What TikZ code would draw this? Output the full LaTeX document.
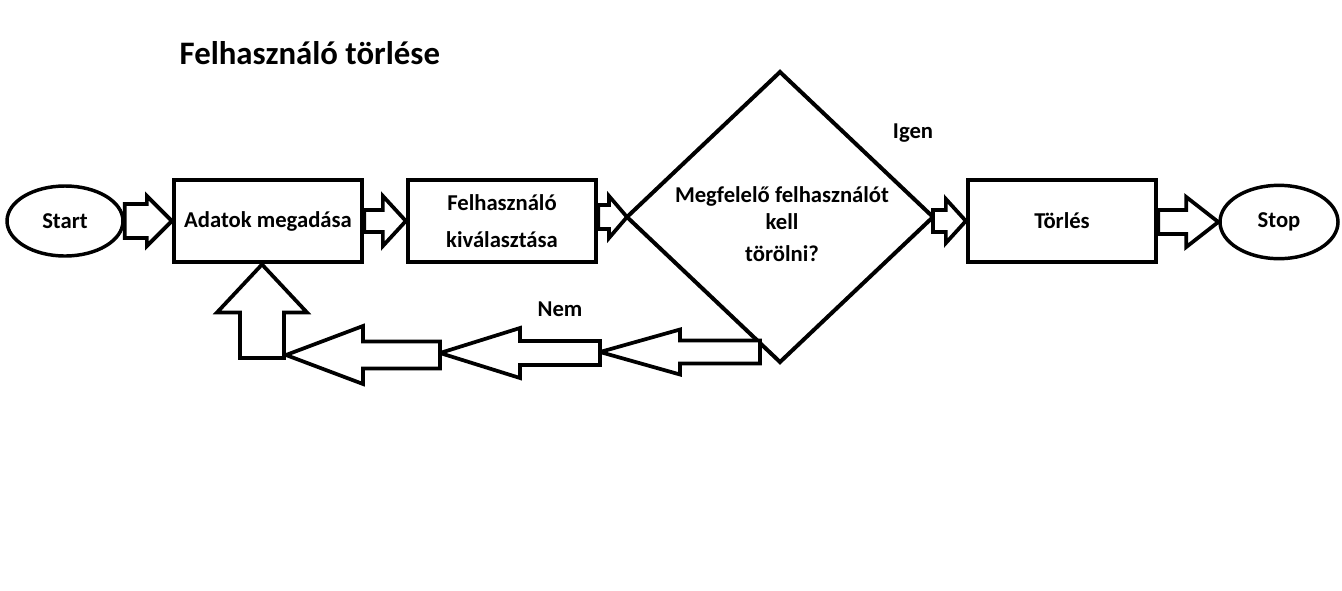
\documentclass[tikz,border=0pt]{standalone}
\usepackage{fontspec}
\setmainfont{Carlito}
\usetikzlibrary{calc,shapes.geometric}

% horizontal block arrow: tail, tip, body half, head half, head base offset from tip
\newcommand{\harrow}[5]{%
  \draw[blockarrow] ($(#1|-#2)+(0,-#3)$) -- ($(#2)+(#5,-#3)$) -- ($(#2)+(#5,-#4)$) -- (#2)
    -- ($(#2)+(#5,#4)$) -- ($(#2)+(#5,#3)$) -- ($(#1|-#2)+(0,#3)$) -- cycle;}
% vertical block arrow, same arguments
\newcommand{\varrow}[5]{%
  \draw[blockarrow] ($(#2|-#1)+(-#3,0)$) -- ($(#2)+(-#3,#5)$) -- ($(#2)+(-#4,#5)$) -- (#2)
    -- ($(#2)+(#4,#5)$) -- ($(#2)+(#3,#5)$) -- ($(#2|-#1)+(#3,0)$) -- cycle;}

\begin{document}
\begin{tikzpicture}[x=0.75pt,y=-0.75pt,
    txt/.style={font=\fontsize{17}{20.4}\selectfont\bfseries, align=center},
    box/.style={draw, line width=3.2pt, minimum width=141pt, minimum height=62pt, txt},
    term/.style={ellipse, draw, line width=2.6pt, inner sep=0pt, txt},
    blockarrow/.style={draw, fill=white, line width=2.8pt, line join=miter}]
    \useasboundingbox (0,0) rectangle (1342,590);

    \node[txt, anchor=west, font=\fontsize{24.6}{29}\selectfont\bfseries] (cim) at (175,53) {Felhasználó törlése};

    \node[term, minimum width=87pt, minimum height=52.5pt] (start) at (65,221) {Start};
    \node[box] (adatok) at (268,221) {Adatok megadása};
    \node[box] (valaszt) at (502,221) {Felhasználó\\[7pt]kiválasztása};
    \node[box] (torles) at (1062,221) {Törlés};
    \node[term, minimum width=88.5pt, minimum height=55pt] (stop) at (1279,222) {Stop};
    \node[diamond, inner sep=0pt, outer sep=0pt, minimum width=229.5pt, minimum height=217.5pt] (dont) at (780,217) {};

    \harrow{start.east}{adatok.west}{17}{25}{-25}
    \harrow{adatok.east}{valaszt.west}{11}{25}{-23}
    \harrow{valaszt.east}{dont.west}{12}{21}{-18}
    \draw[line width=3pt, line join=miter] (dont.north) -- (dont.east) -- (dont.south) -- (dont.west) -- cycle;

    \node[txt] (kerdes) at (782,224) {Megfelelő felhasználót\\kell\\[3.6pt]törölni?};

    \harrow{dont.east}{torles.west}{11}{22}{-20}
    \harrow{torles.east}{stop.west}{12}{25}{-32}

    \node[txt] (igen) at (913,133) {Igen};
    \node[txt] (nem) at (560,309) {Nem};

    % vissza
    \coordinate (n0) at (760,352);
    \coordinate (n1) at (600,352);
    \coordinate (n2) at (440,353);
    \coordinate (n3) at (286,355);
    \coordinate (sarok) at (262,358);
    \harrow{n0}{n1}{11.5}{22.5}{80}
    \harrow{n1}{n2}{12}{25}{80}
    \harrow{n2}{n3}{13.5}{29}{77}
    \varrow{sarok}{sarok|-adatok.south}{22}{45}{48}
\end{tikzpicture}
\end{document}
